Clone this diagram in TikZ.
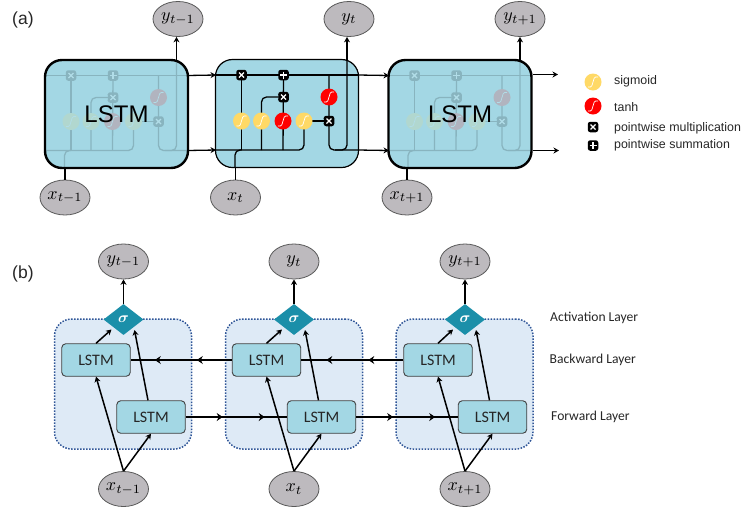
\documentclass[tikz,border=0pt]{standalone}
\usepackage[no-math]{fontspec}
\usepackage{amsmath}
\setmainfont{Liberation Sans}
\newfontfamily\boxfont{Carlito}
\usetikzlibrary{arrows.meta,shapes.geometric,decorations.markings}

\definecolor{cellblue}{HTML}{A3D7E4}
\definecolor{sigyellow}{HTML}{FFD966}
\definecolor{tanhred}{HTML}{FF0000}
\definecolor{nodegrey}{HTML}{BDBABE}
\definecolor{groupblue}{HTML}{DEEAF6}
\definecolor{dotblue}{HTML}{2F5597}
\definecolor{gateteal}{HTML}{1B8FA9}
\definecolor{inktext}{HTML}{262626}

\newcommand{\sz}[1]{\fontsize{#1}{#1}\selectfont}
\newcommand{\mathlabel}[1]{\scalebox{1.8}{$#1$}}

\tikzset{
  wire/.style={line width=1.3pt,draw=black},
  wirearrow/.style={wire,-{Stealth[length=5.5pt,width=6pt]}},
  flowline/.style={line width=1.5pt,draw=black},
  flowarrow/.style={flowline,-{Stealth[length=5.5pt,width=6pt]}},
  midtips/.style 2 args={postaction={decorate},decoration={markings,
    mark=at position #1 with {\arrow{Stealth[length=6pt,width=8pt]}},
    mark=at position #2 with {\arrow{Stealth[length=6pt,width=8pt]}}}},
  varnode/.style={ellipse,draw=black!65,line width=.8pt,fill=nodegrey,
    minimum width=50pt,minimum height=35pt,inner sep=0pt},
  cellbody/.style={rectangle,rounded corners=17pt,fill=cellblue,
    minimum width=143pt,minimum height=108pt,inner sep=0pt},
  cellveil/.style={cellbody,fill opacity=.84,text opacity=1,draw=black,draw opacity=1,
    line width=2.4pt,font=\sz{24}},
  curvemark/.style={path picture={\draw[white,line width=.7pt,
      shift={(path picture bounding box.center)}]
      (-5,5) .. controls (3,6.5) and (-3,-6.5) .. (5,-5);}},
  sigmoidgate/.style={circle,fill=sigyellow,minimum size=17pt,inner sep=0pt,curvemark},
  tanhgate/.style={circle,fill=tanhred,minimum size=17pt,inner sep=0pt,curvemark},
  opsquare/.style={rectangle,rounded corners=2.5pt,fill=black,minimum size=10.5pt,inner sep=0pt},
  opmul/.style={opsquare,path picture={\draw[white,line width=1.3pt,
      shift={(path picture bounding box.center)}]
      (-2.5,-2.5) -- (2.5,2.5) (-2.5,2.5) -- (2.5,-2.5);}},
  opsum/.style={opsquare,path picture={\draw[white,line width=1.3pt,
      shift={(path picture bounding box.center)}]
      (-3.5,0) -- (3.5,0) (0,-3.5) -- (0,3.5);}},
  legendtext/.style={anchor=west,inner sep=0pt,text=inktext,font=\sz{12.4}},
  layertext/.style={anchor=west,inner sep=0pt,text=inktext,font=\boxfont\sz{13.6}},
  panelmark/.style={anchor=west,inner sep=0pt,text=inktext,font=\sz{17.5}},
  groupbox/.style={rectangle,rounded corners=17pt,fill=groupblue,draw=dotblue,
    line width=1.5pt,dash pattern=on 1.5pt off 1.5pt,
    minimum width=137pt,minimum height=130pt,inner sep=0pt},
  lstmbox/.style={rectangle,rounded corners=4pt,fill=cellblue,draw=black!75,line width=.9pt,
    minimum width=68.5pt,minimum height=32.5pt,inner sep=0pt,text=inktext,font=\boxfont\sz{16}},
  activation/.style={diamond,fill=gateteal,minimum width=40pt,minimum height=31pt,
    inner sep=0pt,text=white},
  lstmcell/.pic={
    % anchor points of the gates
    \coordinate (-tl) at (-71,-38.5);
    \coordinate (-tr) at (71,-38.5);
    \coordinate (-bl) at (-71,36.5);
    \coordinate (-br) at (71,36.5);
    \coordinate (-pm1) at (-45.5,-38.5);
    \coordinate (-pa1) at (-3.5,-38.5);
    \coordinate (-pm2) at (-3.5,-16.5);
    \coordinate (-ps1) at (-45.5,7.5);
    \coordinate (-ps2) at (-25.5,7.5);
    \coordinate (-pt1) at (-4,7.5);
    \coordinate (-ps3) at (17,7.5);
    \coordinate (-pm3) at (42,7.5);
    \coordinate (-pt2) at (42,-16.5);
    \coordinate (-in) at (-52,54);
    \coordinate (-out) at (60,-53.5);
    % cell state and hidden state
    \draw[wire] (-tl) -- (-tr);
    \draw[wire,rounded corners=5pt] (-bl) -| (-ps3);
    \draw[wire,rounded corners=5pt] (-in) |- (-45.5,36.5);
    \draw[wire] (-ps1 |- -bl) -- (-pm1);
    \draw[wire] (-pt1 |- -bl) -- (-pa1 |- -tl);
    \draw[wire,rounded corners=5pt] (-ps2 |- -bl) |- (-8.5,-16.5);
    \draw[wirearrow] (-7,-16.5) -- (-pm2);
    \draw[wirearrow] (-ps3) -- (-pm3);
    \draw[wire,rounded corners=5pt] (-pm3 |- -tl) -- (-pm3) |- (-br);
    \draw[wire,rounded corners=5pt] (48,36.5) -| (-out);
    % gates
    \node[sigmoidgate] (-s1) at (-ps1) {};
    \node[sigmoidgate] (-s2) at (-ps2) {};
    \node[tanhgate] (-t1) at (-pt1) {};
    \node[sigmoidgate] (-s3) at (-ps3) {};
    \node[tanhgate] (-t2) at (-pt2) {};
    \node[opmul] (-m1) at (-pm1) {};
    \node[opsum] (-a1) at (-pa1) {};
    \node[opmul] (-m2) at (-pm2) {};
    \node[opmul] (-m3) at (-pm3) {};
  }
}

\begin{document}
\begin{tikzpicture}[x=1pt,y=-1pt]
\useasboundingbox (0,0) rectangle (747,507);

% ---------- panel (a): LSTM chain ----------
\node[panelmark] (marka) at (12,20) {(a)};

\node[cellbody] (box1) at (116.5,114) {};
\pic (c1) at (116.5,114) {lstmcell};
\node[cellveil] (veil1) at (116.5,114) {LSTM};

\node[cellbody,draw=black,line width=1.2pt] (box2) at (287,113.5) {};
\pic (c2) at (287,113.5) {lstmcell};

\node[cellbody] (box3) at (460,114) {};
\pic (c3) at (460,114) {lstmcell};
\node[cellveil] (veil3) at (460,114) {LSTM};

\node[varnode] (y1) at (178,19) {\mathlabel{y_{t-1}}};
\node[varnode] (y2) at (349,19) {\mathlabel{y_{t}}};
\node[varnode] (y3) at (520,19) {\mathlabel{y_{t+1}}};
\node[varnode] (x1) at (65,197.5) {\mathlabel{x_{t-1}}};
\node[varnode] (x2) at (235.5,197.5) {\mathlabel{x_{t}}};
\node[varnode] (x3) at (407,197.5) {\mathlabel{x_{t+1}}};

\draw[wirearrow] (c1-out) -- (c1-out |- y1.south);
\draw[wirearrow] (c2-out) -- (c2-out |- y2.south);
\draw[wirearrow] (c3-out) -- (c3-out |- y3.south);
\draw[wire] (x1.north) -- (x1.north |- veil1.south);
\draw[wire] (x2.north) -- (x2.north |- box2.south);
\draw[wire] (x3.north) -- (x3.north |- veil3.south);

\coordinate (top3) at (558,74.5);
\coordinate (bot3) at (559,150.5);
\draw[wirearrow] (c1-tr) -- (c2-tl);
\draw[wirearrow] (c1-br) -- (c2-bl);
\draw[wirearrow] (c2-tr) -- (c3-tl);
\draw[wirearrow] (c2-br) -- (c3-bl);
\draw[wirearrow] (veil3.east |- top3) -- (top3);
\draw[wirearrow] (veil3.east |- bot3) -- (bot3);

% legend
\node[sigmoidgate] (keys) at (593,82) {};
\node[tanhgate] (keyt) at (593,106) {};
\node[opmul] (keym) at (593,127) {};
\node[opsum] (keya) at (593,145.5) {};
\node[legendtext] (texts) at (614,81) {sigmoid};
\node[legendtext] (textt) at (614,107) {tanh};
\node[legendtext] (textm) at (614,128) {pointwise multiplication};
\node[legendtext] (texta) at (614,145) {pointwise summation};

% ---------- panel (b): bidirectional layers ----------
\node[panelmark] (markb) at (12,274) {(b)};

\node[groupbox] (g1) at (123,384) {};
\node[groupbox] (g2) at (294,384) {};
\node[groupbox] (g3) at (464.5,384) {};

\node[lstmbox] (b1) at (96,360) {LSTM};
\node[lstmbox] (f1) at (151,417) {LSTM};
\node[lstmbox] (b2) at (266.5,360) {LSTM};
\node[lstmbox] (f2) at (321.5,417) {LSTM};
\node[lstmbox] (b3) at (438,360) {LSTM};
\node[lstmbox] (f3) at (492.5,417) {LSTM};

\node[activation] (s1) at (123.5,319.5) {\scalebox{1.5}{$\boldsymbol{\sigma}$}};
\node[activation] (s2) at (294,319.5) {\scalebox{1.5}{$\boldsymbol{\sigma}$}};
\node[activation] (s3) at (465,319.5) {\scalebox{1.5}{$\boldsymbol{\sigma}$}};

\node[varnode] (oy1) at (123.5,261.5) {\mathlabel{y_{t-1}}};
\node[varnode] (oy2) at (294,261.5) {\mathlabel{y_{t}}};
\node[varnode] (oy3) at (465,261.5) {\mathlabel{y_{t+1}}};
\node[varnode] (ox1) at (123.5,489) {\mathlabel{x_{t-1}}};
\node[varnode] (ox2) at (294,489) {\mathlabel{x_{t}}};
\node[varnode] (ox3) at (465,489) {\mathlabel{x_{t+1}}};

\foreach \i in {1,2,3}{
  \draw[flowarrow] (s\i.north) -- (oy\i.south);
  \draw[flowarrow] (ox\i.north) -- (b\i.south);
  \draw[flowarrow] (ox\i.north) -- (f\i.south);
  \draw[flowarrow] (b\i.north) -- ([shift={(-12,10)}]s\i.center);
  \draw[flowarrow] ([xshift=-3pt]f\i.north) -- ([shift={(11,10.5)}]s\i.center);
}

\draw[flowline,midtips={35pt}{77pt}] (b2.west) -- (b1.east);
\draw[flowline,midtips={35pt}{77pt}] (b3.west) -- (b2.east);
\draw[flowline,midtips={37pt}{79pt}] (f1.east) -- (f2.west);
\draw[flowline,midtips={37pt}{79pt}] (f2.east) -- (f3.west);
% heavier stretch of the forward link entering the middle group
\draw[line width=2.2pt] (g2.west |- f1.east) -- ++(33,0);

\node[layertext] (la) at (550,318) {Activation Layer};
\node[layertext] (lb) at (549.5,359.5) {Backward Layer};
\node[layertext] (lf) at (551,416.5) {Forward Layer};
\end{tikzpicture}
\end{document}
